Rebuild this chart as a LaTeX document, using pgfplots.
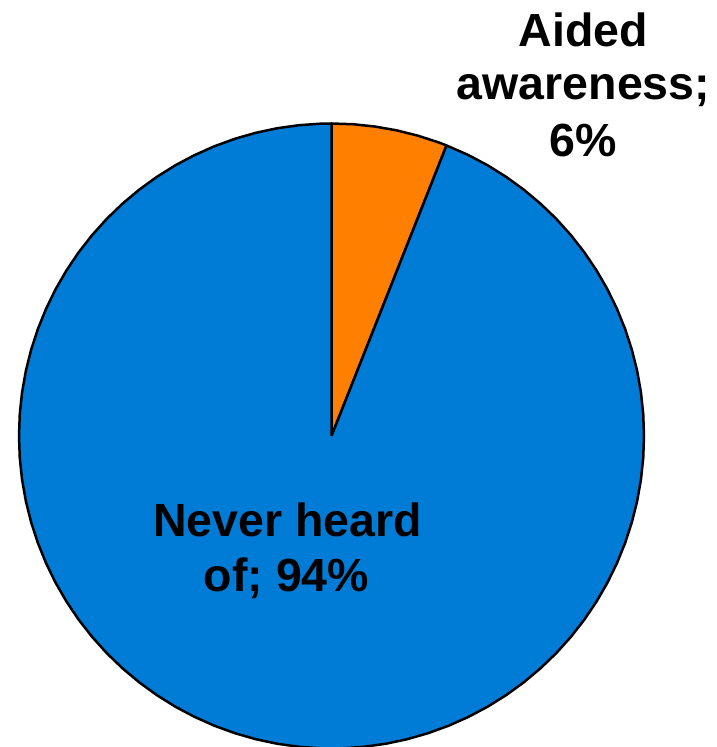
\documentclass[border=0pt]{standalone}
\usepackage{pgfplots}
\pgfplotsset{compat=1.18}
\usepackage{fontspec}
\setmainfont{Liberation Sans}
\definecolor{pieblue}{RGB}{0,124,214}
\definecolor{pieorange}{RGB}{255,128,0}
\begin{document}
\begin{tikzpicture}
% Shares: Aided awareness 6% (21.6 deg), Never heard of 94% (338.4 deg); start at 12 o'clock, clockwise
\begin{axis}[
  x=312.5pt, y=312.5pt,
  xmin=-1.0608, xmax=1.2336,
  ymin=-0.9952, ymax=1.3952,
  hide axis,
  data cs=polar,
]
\addplot[fill=pieorange, draw=black, line width=2.5pt, line join=round, mark=none]
  coordinates {(0,0) (90,1) (86,1) (82,1) (78,1) (74,1) (70,1) (68.4,1) (0,0)};
\addplot[fill=pieblue, draw=black, line width=2.5pt, line join=round, mark=none]
  coordinates {(0,0) (68.4,1) (64,1) (60,1) (56,1) (52,1) (48,1) (44,1) (40,1) (36,1) (32,1) (28,1) (24,1) (20,1) (16,1) (12,1) (8,1) (4,1) (0,1)
  (-4,1) (-8,1) (-12,1) (-16,1) (-20,1) (-24,1) (-28,1) (-32,1) (-36,1) (-40,1) (-44,1) (-48,1) (-52,1) (-56,1) (-60,1) (-64,1) (-68,1) (-72,1) (-76,1) (-80,1)
  (-84,1) (-88,1) (-92,1) (-96,1) (-100,1) (-104,1) (-108,1) (-112,1) (-116,1) (-120,1) (-124,1) (-128,1) (-132,1) (-136,1) (-140,1) (-144,1) (-148,1) (-152,1)
  (-156,1) (-160,1) (-164,1) (-168,1) (-172,1) (-176,1) (-180,1) (-184,1) (-188,1) (-192,1) (-196,1) (-200,1) (-204,1) (-208,1) (-212,1) (-216,1) (-220,1)
  (-224,1) (-228,1) (-232,1) (-236,1) (-240,1) (-244,1) (-248,1) (-252,1) (-256,1) (-260,1) (-264,1) (-268,1) (-270,1) (0,0)};
\begin{scope}[every node/.style={font=\bfseries\fontsize{46.5}{55}\selectfont, inner sep=0pt, anchor=base}]
\node at (axis cs:0.8064,1.2448) {Aided};
\node at (axis cs:0.8064,1.0752) {awareness;};
\node at (axis cs:0.8064,0.8928) {6\%};
\node at (axis cs:-0.1408,-0.3222) {Never heard};
\node at (axis cs:-0.1440,-0.4982) {of; 94\%};
\end{scope}
\end{axis}
\pgfresetboundingbox
\path (current axis.south west) rectangle (current axis.north east);
\end{tikzpicture}
\end{document}
